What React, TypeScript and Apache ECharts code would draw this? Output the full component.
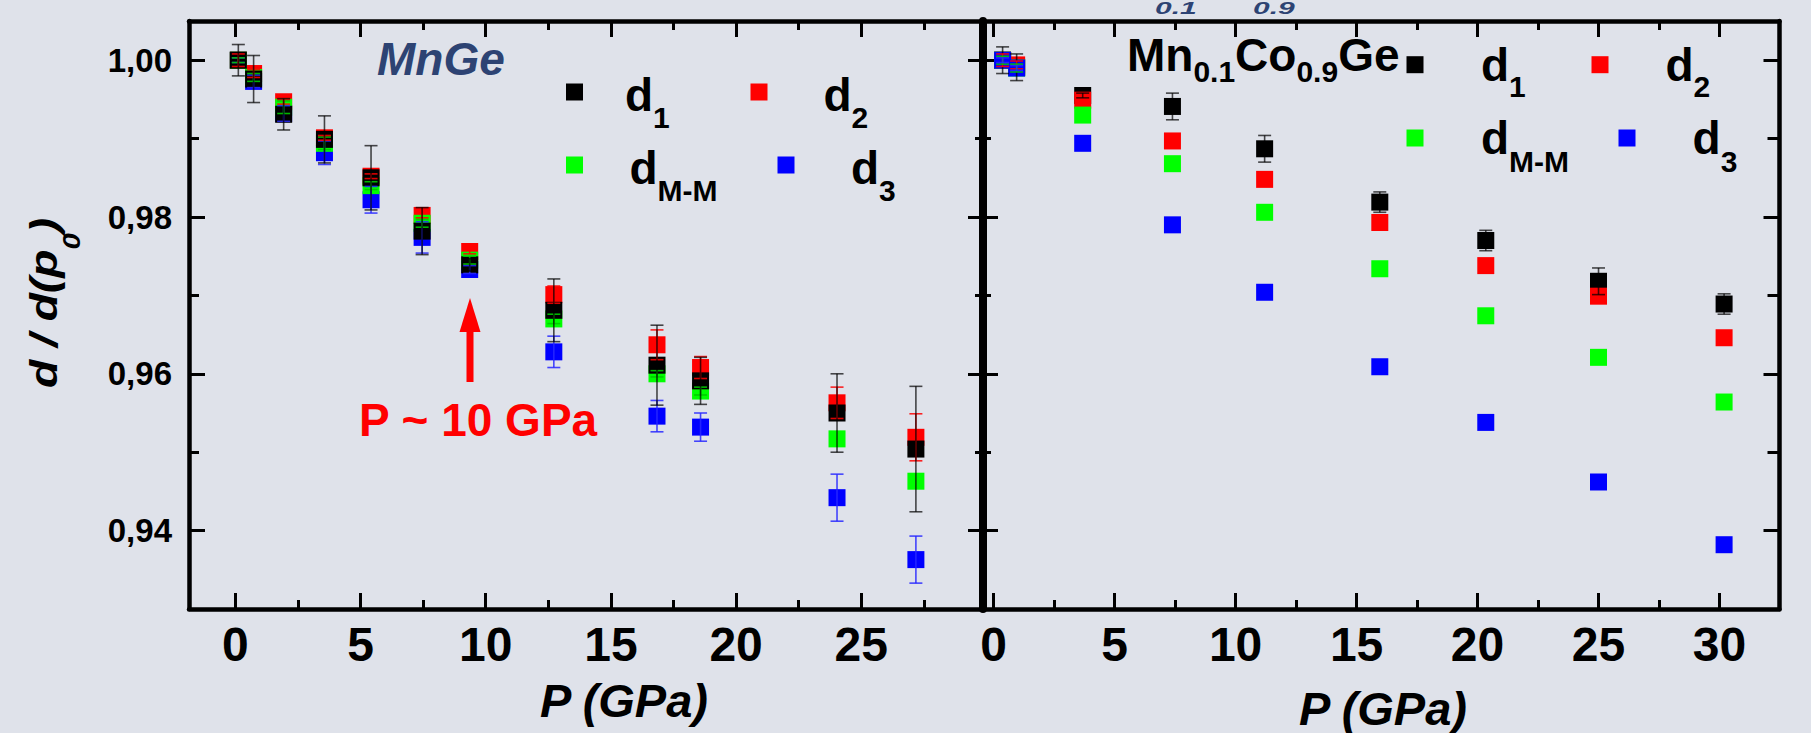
import React, { useEffect, useRef } from 'react';
import * as echarts from 'echarts';

// ---------- data: MnGe (left panel) ----------
const pLeft = [0.12, 0.73, 1.93, 3.56, 5.42, 7.46, 9.36, 12.72, 16.84, 18.58, 24.03, 27.18];
const d1Left = [1.0, 0.9976, 0.9931, 0.9899, 0.985, 0.9782, 0.9739, 0.9681, 0.9611, 0.9591, 0.955, 0.9504];
const d2Left = [1.0, 0.9983, 0.9947, 0.9901, 0.9852, 0.9802, 0.9756, 0.9701, 0.9637, 0.9608, 0.9563, 0.9519];
const dMMLeft = [1.0, 0.9978, 0.994, 0.9894, 0.984, 0.9792, 0.9745, 0.967, 0.96, 0.9578, 0.9517, 0.9463];
const d3Left = [1.0, 0.9973, 0.9932, 0.9882, 0.9822, 0.9774, 0.9733, 0.9628, 0.9546, 0.9532, 0.9442, 0.9363];
const e1Left = [0.002, 0.003, 0.002, 0.003, 0.0041, 0.003, 0.0008, 0.004, 0.0051, 0.003, 0.005, 0.008];
const e2Left = [0.0008, 0.0005, 0.0003, 0.0003, 0.0003, 0.0003, 0.0003, 0.0011, 0.0019, 0.0014, 0.002, 0.003];
const eMMLeft = [0.0003, 0.0005, 0.0008, 0.0008, 0.0005, 0.0005, 0.0005, 0.0006, 0.0004, 0.0005, 0, 0];
const e3Left = [0.0003, 0.0008, 0.001, 0.0015, 0.0017, 0.002, 0.0005, 0.002, 0.002, 0.0018, 0.003, 0.003];

// ---------- data: Mn0.1Co0.9Ge (right panel) ----------
const pRight = [0.37, 0.95, 3.68, 7.39, 11.2, 15.96, 20.34, 25.0, 30.19];
const d1Right = [1.0, 0.9991, 0.9955, 0.9941, 0.9887, 0.9819, 0.977, 0.9718, 0.9689];
const d2Right = [1.0, 0.9994, 0.9949, 0.9897, 0.9848, 0.9793, 0.9738, 0.9699, 0.9646];
const dMMRight = [1.0, 0.999, 0.993, 0.9868, 0.9806, 0.9734, 0.9674, 0.9621, 0.9564];
const d3Right = [1.0, 0.999, 0.9894, 0.979, 0.9704, 0.9609, 0.9538, 0.9462, 0.9382];
const e1Right = [0.0017, 0.0017, 0.0003, 0.0017, 0.0017, 0.0013, 0.0013, 0.0017, 0.0013];
const e2Right = [0.0008, 0.0005, 0, 0, 0, 0, 0, 0, 0];
const eMMRight = [0.0005, 0.0005, 0, 0, 0, 0, 0, 0, 0];
const e3Right = [0.0003, 0.0003, 0, 0, 0, 0, 0, 0, 0];

// ---------- tick labels ----------
const xMajorLeft = [0, 5, 10, 15, 20, 25];
const xMinorLeft = [2.5, 7.5, 12.5, 17.5, 22.5, 27.5];
const xMajorRight = [0, 5, 10, 15, 20, 25, 30];
const xMinorRight = [2.5, 7.5, 12.5, 17.5, 22.5, 27.5];
const yMajor = [0.94, 0.96, 0.98, 1.0];
const yMinor = [0.95, 0.97, 0.99];

const X_LEFT: [number, number] = [-1.85, 29.86];
const X_RIGHT: [number, number] = [-0.44, 32.48];
const Y_RANGE: [number, number] = [0.93, 1.005];

const FONT = "'Liberation Sans', Arial, sans-serif";
const BG = '#dfe2ea';
const BLUE_TXT = '#2d4373';
const C_BLACK = '#000000';
const C_RED = '#ff0000';
const C_GREEN = '#00ff00';
const C_BLUE = '#0000ff';

function measure(text: string, size: number, italic: boolean): number {
  const c = document.createElement('canvas').getContext('2d') as CanvasRenderingContext2D;
  c.font = `${italic ? 'italic ' : ''}bold ${size}px ${FONT}`;
  return c.measureText(text).width;
}

type Piece = { t: string; s: number; y: number; i?: boolean; c?: string; sy?: number };

function seq(x0: number, items: Piece[]) {
  let x = x0;
  const out: any[] = [];
  for (const it of items) {
    out.push({
      type: 'text',
      x,
      y: it.y,
      scaleY: it.sy || 1,
      z: 100,
      style: {
        text: it.t,
        fontSize: it.s,
        fontWeight: 'bold',
        fontStyle: it.i ? 'italic' : 'normal',
        fontFamily: FONT,
        fill: it.c || '#000',
        align: 'left',
        verticalAlign: 'middle',
        textAlign: 'left',
        textVerticalAlign: 'middle',
      },
    });
    x += measure(it.t, it.s, !!it.i);
  }
  return out;
}

function seqWidth(items: Piece[]) {
  return items.reduce((a, it) => a + measure(it.t, it.s, !!it.i), 0);
}

function textC(x: number, y: number, t: string, s: number, italic: boolean, color: string) {
  return {
    type: 'text',
    x,
    y,
    z: 100,
    style: {
      text: t,
      fontSize: s,
      fontWeight: 'bold',
      fontStyle: italic ? 'italic' : 'normal',
      fontFamily: FONT,
      fill: color,
      align: 'center',
      verticalAlign: 'middle',
      textAlign: 'center',
      textVerticalAlign: 'middle',
    },
  };
}

function swatch(cx: number, cy: number, color: string) {
  return { type: 'rect', z: 100, shape: { x: cx - 8.5, y: cy - 8.5, width: 17, height: 17 }, style: { fill: color } };
}

function xAx(grid: number, range: [number, number], pos: string, values: number[], len: number, line: boolean, labels: boolean) {
  return {
    type: 'value',
    gridIndex: grid,
    min: range[0],
    max: range[1],
    position: pos,
    axisLine: { show: line, onZero: false, lineStyle: { color: '#000', width: 4.5 } },
    axisTick: { show: true, inside: true, length: len, customValues: values, lineStyle: { color: '#000', width: 3 } },
    axisLabel: labels
      ? { show: true, customValues: values, fontSize: 48, fontWeight: 'bold', fontFamily: FONT, color: '#000', margin: 11 }
      : { show: false },
    splitLine: { show: false },
    minorTick: { show: false },
  };
}

function yAx(grid: number, pos: string, values: number[], len: number, line: boolean, lineW: number, labels: boolean) {
  return {
    type: 'value',
    gridIndex: grid,
    min: Y_RANGE[0],
    max: Y_RANGE[1],
    position: pos,
    axisLine: { show: line, onZero: false, lineStyle: { color: '#000', width: lineW } },
    axisTick: { show: true, inside: true, length: len, customValues: values, lineStyle: { color: '#000', width: 3 } },
    axisLabel: labels
      ? {
          show: true,
          customValues: values,
          fontSize: 33,
          fontWeight: 'bold',
          fontFamily: FONT,
          color: '#000',
          margin: 17,
          formatter: (v: number) => v.toFixed(2).replace('.', ','),
        }
      : { show: false },
    splitLine: { show: false },
    minorTick: { show: false },
  };
}

function markers(name: string, p: number[], v: number[], color: string, xi: number, yi: number) {
  return {
    type: 'scatter',
    name,
    xAxisIndex: xi,
    yAxisIndex: yi,
    symbol: 'rect',
    symbolSize: 17,
    itemStyle: { color, opacity: 1 },
    data: p.map((x, i) => [x, v[i]]),
    z: 2,
  };
}

function errors(p: number[], v: number[], e: number[], color: string, xi: number, yi: number) {
  return {
    type: 'custom',
    xAxisIndex: xi,
    yAxisIndex: yi,
    silent: true,
    z: 3,
    encode: { x: 0, y: 1 },
    data: p.map((x, i) => [x, v[i], e[i]]),
    renderItem: (params: any, api: any) => {
      const x = api.value(0);
      const y = api.value(1);
      const err = api.value(2);
      if (!err) return null;
      const top = api.coord([x, y + err]);
      const bot = api.coord([x, y - err]);
      const cx = top[0];
      const st = { stroke: color, lineWidth: 1.6 };
      return {
        type: 'group',
        children: [
          { type: 'line', shape: { x1: cx, y1: top[1], x2: cx, y2: bot[1] }, style: st },
          { type: 'line', shape: { x1: cx - 6.5, y1: top[1], x2: cx + 6.5, y2: top[1] }, style: st },
          { type: 'line', shape: { x1: cx - 6.5, y1: bot[1], x2: cx + 6.5, y2: bot[1] }, style: st },
        ],
      };
    },
  };
}

function buildGraphics() {
  const g: any[] = [];
  // y axis title, rotated and stretched along its length
  const yt: Piece[] = [
    { t: 'd / d(p', s: 38, y: 0, i: true },
    { t: '0', s: 24, y: 28, i: true },
    { t: ')', s: 38, y: 0, i: true },
  ];
  const ytw = seqWidth(yt);
  g.push({
    type: 'group',
    x: 44,
    y: 303,
    rotation: Math.PI / 2,
    scaleX: 170 / ytw,
    children: seq(-ytw / 2, yt),
  });
  // x axis titles
  g.push(textC(624, 700, 'P (GPa)', 47, true, '#000'));
  g.push(textC(1383, 708, 'P (GPa)', 47, true, '#000'));
  // MnGe label
  g.push(...seq(377, [{ t: 'MnGe', s: 46, y: 58.5, i: true, c: BLUE_TXT }]));
  // P ~ 10 GPa annotation with arrow
  g.push(textC(478, 420, 'P ~ 10 GPa', 46, false, C_RED));
  g.push({ type: 'rect', z: 100, shape: { x: 466.5, y: 326, width: 7, height: 56 }, style: { fill: C_RED } });
  g.push({ type: 'polygon', z: 100, shape: { points: [[470, 298], [459.5, 332], [480.5, 332]] }, style: { fill: C_RED } });
  // Mn0.1Co0.9Ge
  g.push(
    ...seq(1127, [
      { t: 'Mn', s: 46, y: 54.5 },
      { t: '0.1', s: 30, y: 71 },
      { t: 'Co', s: 46, y: 54.5 },
      { t: '0.9', s: 30, y: 71 },
      { t: 'Ge', s: 46, y: 54.5 },
    ])
  );
  // low-lying subscripts at the very top edge (squashed so they stay inside the page)
  g.push(...seq(1155, [{ t: '0.1', s: 30, y: 8.5, i: true, c: BLUE_TXT, sy: 0.55 }]));
  g.push(...seq(1253, [{ t: '0.9', s: 30, y: 8.5, i: true, c: BLUE_TXT, sy: 0.55 }]));

  // left legend
  g.push(swatch(574.5, 92, C_BLACK));
  g.push(...seq(625, [{ t: 'd', s: 46, y: 95 }, { t: '1', s: 30, y: 117 }]));
  g.push(swatch(759, 92, C_RED));
  g.push(...seq(823.5, [{ t: 'd', s: 46, y: 95 }, { t: '2', s: 30, y: 117 }]));
  g.push(swatch(574.5, 165, C_GREEN));
  g.push(...seq(629.5, [{ t: 'd', s: 46, y: 168 }, { t: 'M-M', s: 30, y: 190 }]));
  g.push(swatch(786, 165, C_BLUE));
  g.push(...seq(851, [{ t: 'd', s: 46, y: 168 }, { t: '3', s: 30, y: 190 }]));

  // right legend
  g.push(swatch(1415, 64.7, C_BLACK));
  g.push(...seq(1481, [{ t: 'd', s: 46, y: 65 }, { t: '1', s: 30, y: 86.5 }]));
  g.push(swatch(1600, 64.7, C_RED));
  g.push(...seq(1665.5, [{ t: 'd', s: 46, y: 65 }, { t: '2', s: 30, y: 86.5 }]));
  g.push(swatch(1415, 138, C_GREEN));
  g.push(...seq(1481, [{ t: 'd', s: 46, y: 138 }, { t: 'M-M', s: 30, y: 161.5 }]));
  g.push(swatch(1627, 138, C_BLUE));
  g.push(...seq(1692.6, [{ t: 'd', s: 46, y: 138 }, { t: '3', s: 30, y: 161.5 }]));
  return g;
}

export default function App() {
  const ref = useRef<HTMLDivElement>(null);
  useEffect(() => {
    if (!ref.current) return;
    const chart = echarts.init(ref.current, undefined, { renderer: 'svg' });
    const option: any = {
      animation: false,
      backgroundColor: BG,
      grid: [
        { left: 189, top: 21, width: 794, height: 588, containLabel: false, outerBoundsMode: 'none' },
        { left: 983, top: 21, width: 796.5, height: 588, containLabel: false, outerBoundsMode: 'none' },
      ],
      xAxis: [
        xAx(0, X_LEFT, 'bottom', xMajorLeft, 16, true, true),
        xAx(0, X_LEFT, 'bottom', xMinorLeft, 9, false, false),
        xAx(0, X_LEFT, 'top', xMajorLeft, 16, true, false),
        xAx(0, X_LEFT, 'top', xMinorLeft, 9, false, false),
        xAx(1, X_RIGHT, 'bottom', xMajorRight, 16, true, true),
        xAx(1, X_RIGHT, 'bottom', xMinorRight, 9, false, false),
        xAx(1, X_RIGHT, 'top', xMajorRight, 16, true, false),
        xAx(1, X_RIGHT, 'top', xMinorRight, 9, false, false),
      ],
      yAxis: [
        yAx(0, 'left', yMajor, 16, true, 4.5, true),
        yAx(0, 'left', yMinor, 10, false, 4.5, false),
        yAx(0, 'right', yMajor, 15, true, 4.5, false),
        yAx(0, 'right', yMinor, 8, false, 4.5, false),
        yAx(1, 'left', yMajor, 15, true, 8, false),
        yAx(1, 'left', yMinor, 8, false, 8, false),
        yAx(1, 'right', yMajor, 16, true, 4.5, false),
        yAx(1, 'right', yMinor, 12, false, 4.5, false),
      ],
      series: [
        // left panel markers (bottom to top)
        markers('d3', pLeft, d3Left, C_BLUE, 0, 0),
        markers('d2', pLeft, d2Left, C_RED, 0, 0),
        markers('dM-M', pLeft, dMMLeft, C_GREEN, 0, 0),
        markers('d1', pLeft, d1Left, C_BLACK, 0, 0),
        errors(pLeft, d3Left, e3Left, 'rgba(40,40,255,0.85)', 0, 0),
        errors(pLeft, dMMLeft, eMMLeft, 'rgba(0,200,0,0.9)', 0, 0),
        errors(pLeft, d2Left, e2Left, 'rgba(255,0,0,0.85)', 0, 0),
        errors(pLeft, d1Left, e1Left, 'rgba(0,0,0,0.7)', 0, 0),
        // right panel markers (bottom to top)
        markers('d1', pRight, d1Right, C_BLACK, 4, 4),
        markers('d2', pRight, d2Right, C_RED, 4, 4),
        markers('dM-M', pRight, dMMRight, C_GREEN, 4, 4),
        markers('d3', pRight, d3Right, C_BLUE, 4, 4),
        errors(pRight, d1Right, e1Right, 'rgba(0,0,0,0.7)', 4, 4),
        errors(pRight, d2Right, e2Right, 'rgba(255,0,0,0.85)', 4, 4),
        errors(pRight, dMMRight, eMMRight, 'rgba(0,200,0,0.9)', 4, 4),
        errors(pRight, d3Right, e3Right, 'rgba(40,40,255,0.85)', 4, 4),
      ],
      graphic: { elements: buildGraphics() },
    };
    chart.setOption(option);
    return () => chart.dispose();
  }, []);
  return (
    <div
      ref={ref}
      style={{ position: 'fixed', left: 0, top: 0, width: 1811, height: 733, background: BG }}
    />
  );
}
